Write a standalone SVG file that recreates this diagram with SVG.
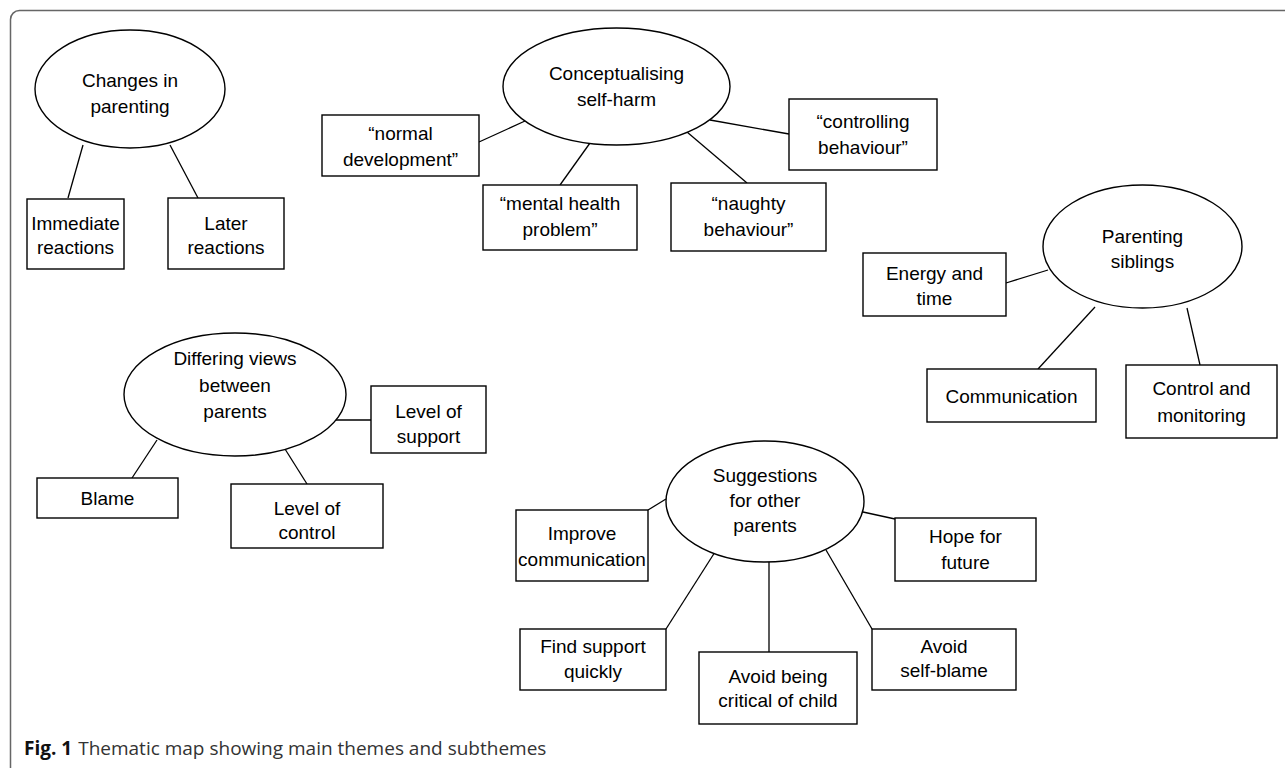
<svg xmlns="http://www.w3.org/2000/svg" width="1285" height="768" viewBox="0 0 1285 768">
<style>
.n{fill:#fff;stroke:#000;stroke-width:1.4}
.t{font-family:"Liberation Sans",Arial,sans-serif;font-size:19px;fill:#000;text-anchor:middle}
.c line{stroke:#000;stroke-width:1.3}
.cap{font-family:"Open Sans","Liberation Sans",sans-serif;font-size:19px;fill:#333}
</style>
<rect x="0" y="0" width="1285" height="768" fill="#fff"/>
<rect x="10.5" y="10.5" width="1300" height="790" rx="9" fill="none" stroke="#666" stroke-width="1.5"/>
<g class="c" id="connectors">
<line x1="83" y1="145" x2="68" y2="198"/>
<line x1="170" y1="145" x2="198" y2="198"/>
<line x1="525" y1="121" x2="479" y2="142"/>
<line x1="590" y1="143" x2="560" y2="185"/>
<line x1="687" y1="132" x2="747" y2="183"/>
<line x1="710" y1="120" x2="789" y2="134"/>
<line x1="1048" y1="270" x2="1006" y2="283"/>
<line x1="1095" y1="307" x2="1038" y2="369"/>
<line x1="1187" y1="308" x2="1200" y2="365"/>
<line x1="336" y1="420" x2="371" y2="420"/>
<line x1="157" y1="440" x2="132" y2="478"/>
<line x1="285" y1="449" x2="307" y2="484"/>
<line x1="666" y1="499" x2="648" y2="510"/>
<line x1="863" y1="512" x2="895" y2="519"/>
<line x1="715" y1="552" x2="666" y2="629"/>
<line x1="769" y1="562" x2="769" y2="652"/>
<line x1="826" y1="550" x2="872" y2="629"/>
</g>
<g id="changes"><ellipse class="n" cx="130" cy="89" rx="95" ry="59"/><text class="t" x="130" y="87">Changes in</text><text class="t" x="130" y="113">parenting</text></g>
<g id="immediate"><rect class="n" x="27" y="199" width="97" height="70"/><text class="t" x="75.5" y="230">Immediate</text><text class="t" x="75.5" y="254">reactions</text></g>
<g id="later"><rect class="n" x="168" y="198" width="116" height="71"/><text class="t" x="226" y="230">Later</text><text class="t" x="226" y="254">reactions</text></g>
<g id="conceptualising"><ellipse class="n" cx="616.5" cy="86.5" rx="113.5" ry="58.5"/><text class="t" x="616.5" y="80">Conceptualising</text><text class="t" x="616.5" y="106">self-harm</text></g>
<g id="normal"><rect class="n" x="322" y="115" width="157" height="61"/><text class="t" x="400.5" y="140">“normal</text><text class="t" x="400.5" y="166">development”</text></g>
<g id="mental"><rect class="n" x="483" y="185" width="154" height="65"/><text class="t" x="560" y="210">“mental health</text><text class="t" x="560" y="236">problem”</text></g>
<g id="naughty"><rect class="n" x="671" y="183" width="155" height="68"/><text class="t" x="748.5" y="210">“naughty</text><text class="t" x="748.5" y="236">behaviour”</text></g>
<g id="controlling"><rect class="n" x="789" y="99" width="148" height="71"/><text class="t" x="863" y="128">“controlling</text><text class="t" x="863" y="154">behaviour”</text></g>
<g id="siblings"><ellipse class="n" cx="1142.5" cy="246.5" rx="99.5" ry="61.5"/><text class="t" x="1142.5" y="243">Parenting</text><text class="t" x="1142.5" y="268">siblings</text></g>
<g id="energy"><rect class="n" x="863" y="253" width="143" height="63"/><text class="t" x="934.5" y="280">Energy and</text><text class="t" x="934.5" y="305">time</text></g>
<g id="communication"><rect class="n" x="927" y="369" width="169" height="53"/><text class="t" x="1011.5" y="403">Communication</text></g>
<g id="control"><rect class="n" x="1126" y="365" width="151" height="73"/><text class="t" x="1201.5" y="395">Control and</text><text class="t" x="1201.5" y="422">monitoring</text></g>
<g id="differing"><ellipse class="n" cx="235" cy="394.5" rx="111" ry="61.5"/><text class="t" x="235" y="365">Differing views</text><text class="t" x="235" y="392">between</text><text class="t" x="235" y="418">parents</text></g>
<g id="support"><rect class="n" x="371" y="386" width="115" height="67"/><text class="t" x="428.5" y="418">Level of</text><text class="t" x="428.5" y="443">support</text></g>
<g id="blame"><rect class="n" x="37" y="478" width="141" height="40"/><text class="t" x="107.5" y="505">Blame</text></g>
<g id="levelcontrol"><rect class="n" x="231" y="484" width="152" height="64"/><text class="t" x="307" y="515">Level of</text><text class="t" x="307" y="539">control</text></g>
<g id="suggestions"><ellipse class="n" cx="765" cy="501.5" rx="99" ry="60.5"/><text class="t" x="765" y="482">Suggestions</text><text class="t" x="765" y="507">for other</text><text class="t" x="765" y="532">parents</text></g>
<g id="improve"><rect class="n" x="516" y="510" width="132" height="71"/><text class="t" x="582" y="540">Improve</text><text class="t" x="582" y="566">communication</text></g>
<g id="hope"><rect class="n" x="895" y="518" width="141" height="63"/><text class="t" x="965.5" y="543">Hope for</text><text class="t" x="965.5" y="569">future</text></g>
<g id="find"><rect class="n" x="520" y="629" width="146" height="61"/><text class="t" x="593" y="653">Find support</text><text class="t" x="593" y="678">quickly</text></g>
<g id="critical"><rect class="n" x="699" y="652" width="158" height="72"/><text class="t" x="778" y="683">Avoid being</text><text class="t" x="778" y="707">critical of child</text></g>
<g id="selfblame"><rect class="n" x="872" y="629" width="144" height="61"/><text class="t" x="944" y="653">Avoid</text><text class="t" x="944" y="677">self-blame</text></g>
<text class="cap" x="24" y="755"><tspan font-weight="bold" fill="#111">Fig. 1</tspan><tspan dx="6">Thematic map showing main themes and subthemes</tspan></text>
</svg>
